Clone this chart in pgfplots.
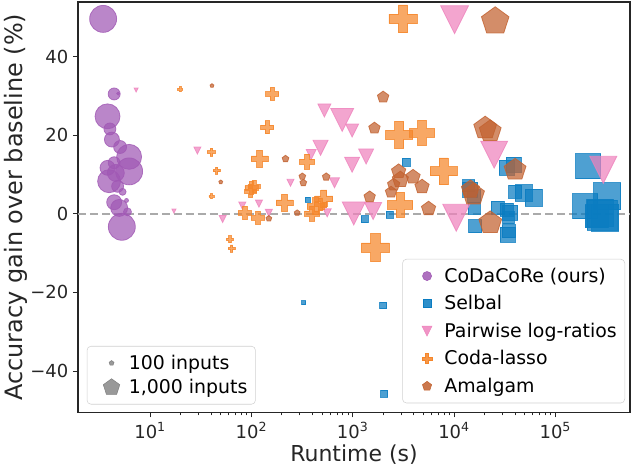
\documentclass[border=0pt]{standalone}
\usepackage{fontspec}
\setmainfont{DejaVu Sans}
\usepackage{pgfplots}
\pgfplotsset{compat=1.18}
\usepackage{pgfplotstable}
\usetikzlibrary{plotmarks}

\definecolor{cpurple}{HTML}{A058B4}
\definecolor{cblue}{HTML}{0A7CC1}
\definecolor{cpink}{HTML}{EE82BC}
\definecolor{corange}{HTML}{F5862A}
\definecolor{cbrown}{HTML}{C2612F}
\definecolor{cspine}{HTML}{262626}
\definecolor{cgrid}{HTML}{AAAAAA}

% matplotlib-like marks
\pgfdeclareplotmark{tridown}{%
  \pgfpathmoveto{\pgfqpoint{0pt}{-\pgfplotmarksize}}%
  \pgfpathlineto{\pgfqpoint{-\pgfplotmarksize}{\pgfplotmarksize}}%
  \pgfpathlineto{\pgfqpoint{\pgfplotmarksize}{\pgfplotmarksize}}%
  \pgfpathclose
  \pgfusepathqfillstroke}
\pgfdeclareplotmark{fplus}{%
  \pgfpathmoveto{\pgfqpoint{-0.3333\pgfplotmarksize}{-\pgfplotmarksize}}%
  \pgfpathlineto{\pgfqpoint{0.3333\pgfplotmarksize}{-\pgfplotmarksize}}%
  \pgfpathlineto{\pgfqpoint{0.3333\pgfplotmarksize}{-0.3333\pgfplotmarksize}}%
  \pgfpathlineto{\pgfqpoint{\pgfplotmarksize}{-0.3333\pgfplotmarksize}}%
  \pgfpathlineto{\pgfqpoint{\pgfplotmarksize}{0.3333\pgfplotmarksize}}%
  \pgfpathlineto{\pgfqpoint{0.3333\pgfplotmarksize}{0.3333\pgfplotmarksize}}%
  \pgfpathlineto{\pgfqpoint{0.3333\pgfplotmarksize}{\pgfplotmarksize}}%
  \pgfpathlineto{\pgfqpoint{-0.3333\pgfplotmarksize}{\pgfplotmarksize}}%
  \pgfpathlineto{\pgfqpoint{-0.3333\pgfplotmarksize}{0.3333\pgfplotmarksize}}%
  \pgfpathlineto{\pgfqpoint{-\pgfplotmarksize}{0.3333\pgfplotmarksize}}%
  \pgfpathlineto{\pgfqpoint{-\pgfplotmarksize}{-0.3333\pgfplotmarksize}}%
  \pgfpathlineto{\pgfqpoint{-0.3333\pgfplotmarksize}{-0.3333\pgfplotmarksize}}%
  \pgfpathclose
  \pgfusepathqfillstroke}

% d = marker span in reference pixels (1px = 0.75pt)
\pgfplotsset{
  bub/.style 2 args={only marks, forget plot, mark=#1, scatter,
    point meta=\thisrow{d},
    scatter/use mapped color={draw=#2, fill=#2},
    visualization depends on={0.375*\thisrow{d} \as \msz},
    scatter/@pre marker code/.append style={/tikz/mark size=\msz},
    mark options={fill opacity=0.72, draw opacity=0.8, line width=0.6pt}},
  limg/.style={legend image code/.code={%
    \path (0cm,0cm) (0.88cm,0cm);
    \draw[##1] plot coordinates {(0.5cm,0cm)};}},
  lbox/.style={draw=black!18, rounded corners=3pt, fill=white, fill opacity=0.8,
    draw opacity=1, text opacity=1, font=\fontsize{14.2}{17}\selectfont,
    inner xsep=4pt, inner ysep=4.5pt},
}

\pgfplotstableread{
x y d
3.44 49.6 27
4.42 30.5 12
4.84 30.6 3
3.80 24.8 25
4.01 21.6 12
4.20 18.9 15
5.06 17.0 13
6.21 14.5 25
6.21 10.8 27
3.80 11.7 15
3.94 8.3 23
4.59 10.4 17
4.42 13.0 12
5.35 5.6 7
4.42 2.95 15
4.95 1.5 17
5.85 3.4 4
5.98 0.5 8
5.26 -3.3 27
4.78 7.0 12
}\codacore

\pgfplotstableread{
x y d
329 -22.6 4
1995 -23.3 7
2052 -45.7 7
1312 -1.4 7
2318 -0.2 7
361 3.6 5
3381 13.1 8
13900 7.2 12
15800 4.5 13
15800 1.5 12
16190 -3.1 13
26850 1.5 13
33200 1.1 13
34450 -1.0 12
34450 -4.4 13
38550 12.5 15
40090 5.7 13
14450 6.2 15
33200 11.7 15
35800 0.25 15
34000 -5.3 15
48400 5.3 17
60700 4.1 17
211400 12.1 25
196200 1.9 25
325000 4.5 27
275600 0.25 27
309000 -1.0 27
255700 -0.6 23
290000 -0.3 30
}\selbal

\pgfplotstableread{
x y d
7.28 31.5 4
29.3 16.1 7
17.2 0.7 4
52.0 -1.3 7
81.3 2.1 7
118.6 2.6 7
148.6 0.25 7
243 7.9 7
525 26.3 13
787 23.9 23
987 21.2 13
481 16.8 15
389 15.1 10
986 12.5 15
1355 14.6 15
661 7.9 10
560 0.25 8
1023 0.1 23
1589 0.7 17
10120 49.4 28
24880 15.05 27
10520 -1.0 27
297000 11.2 27
}\pairwise

\pgfplotstableread{
x y d
19.8 31.7 5
40.3 15.7 8
45.4 11.0 7
40.3 4.5 5
61.4 -6.5 7
63.8 -8.8 7
160.7 30.5 13
143.5 22.0 13
120.5 14.0 17
100 6.6 13
106 7.0 12
98 5.7 12
86.3 0.25 13
115.8 -1.0 13
212 2.8 17
355.5 13.3 15
518 3.8 18
430 1.9 17
398 0.1 15
481 2.4 13
1675 -8.6 28
2951 2.3 25
2884 20.1 27
4830 20.6 25
7890 10.8 27
3130 49.6 28
}\codalasso

\pgfplotstableread{
x y d
40.8 32.6 4
49.8 8.1 4
217 14.0 7
148.6 -1.2 6
283 0.25 6
318 9.5 7
325 7.9 7
547 9.4 8
1995 29.7 12
1637 21.8 12
1469 4.3 12
2838 10.8 15
2951 8.7 17
2535 7.4 13
3935 9.4 15
4830 6.9 15
2388 5.5 12
5600 1.3 15
20280 21.8 24
22740 21.0 23
15550 4.9 23
14500 6.2 19
22740 -2.3 24
40000 11.2 23
25470 49.0 29
}\amalgam

\begin{document}
\begin{tikzpicture}
\begin{axis}[
  xmode=log, scale only axis, width=414.75pt, height=308.25pt,
  xmin=1.94, xmax=5.45e5, ymin=-50.5, ymax=53.9,
  xtick={10,100,1000,10000,100000},
  xticklabels={10\textsuperscript{1},10\textsuperscript{2},10\textsuperscript{3},10\textsuperscript{4},10\textsuperscript{5}},
  ytick={-40,-20,0,20,40},
  yticklabels={−40,−20,0,20,40},
  tick align=outside, xtick pos=bottom, ytick pos=left,
  major tick length=3.75pt, minor tick length=2.25pt,
  every tick/.style={cspine, line width=0.75pt},
  axis line style={cspine, line width=0.9pt},
  tick label style={font=\fontsize{13.5}{16}\selectfont, text=cspine},
  xlabel={Runtime (s)}, ylabel={Accuracy gain over baseline (\%)},
  xlabel style={font=\fontsize{16.5}{20}\selectfont, text=cspine,
    at={([yshift=-32pt]axis description cs:0.5,0)}, anchor=center},
  ylabel style={font=\fontsize{18}{22}\selectfont, text=cspine,
    at={([xshift=-46.5pt]axis description cs:0,0.5)}, anchor=center},
  legend style={lbox, at={(0.991,0.022)}, anchor=south east, row sep=4.4pt},
  legend cell align=left,
]
\coordinate (bl) at (rel axis cs:0,0);
\coordinate (tr) at (rel axis cs:1,1);
\addplot[forget plot, cgrid, line width=1.5pt, dash pattern=on 6pt off 3pt] coordinates {(1.94,0) (5.45e5,0)};
\addplot[bub={*}{cpurple}] table[x=x,y=y] {\codacore};
\addplot[bub={square*}{cblue}] table[x=x,y=y] {\selbal};
\addplot[bub={tridown}{cpink}] table[x=x,y=y] {\pairwise};
\addplot[bub={fplus}{corange}] table[x=x,y=y] {\codalasso};
\addplot[bub={pentagon*}{cbrown}] table[x=x,y=y] {\amalgam};
\addlegendimage{only marks, limg, mark=*, mark size=3.4pt, draw=cpurple, fill=cpurple, mark options={fill opacity=0.85}}
\addlegendentry{CoDaCoRe (ours)}
\addlegendimage{only marks, limg, mark=square*, mark size=3pt, draw=cblue, fill=cblue, mark options={fill opacity=0.85}}
\addlegendentry{Selbal}
\addlegendimage{only marks, limg, mark=tridown, mark size=3.7pt, draw=cpink, fill=cpink, mark options={fill opacity=0.85}}
\addlegendentry{Pairwise log-ratios}
\addlegendimage{only marks, limg, mark=fplus, mark size=3.7pt, draw=corange, fill=corange, mark options={fill opacity=0.85}}
\addlegendentry{Coda-lasso}
\addlegendimage{only marks, limg, mark=pentagon*, mark size=3.6pt, draw=cbrown, fill=cbrown, mark options={fill opacity=0.85}}
\addlegendentry{Amalgam}
\end{axis}
\begin{axis}[
  scale only axis, width=414.75pt, height=308.25pt, hide axis,
  xmin=0, xmax=1, ymin=0, ymax=1,
  legend style={lbox, at={(0.016,0.019)}, anchor=south west, row sep=2pt},
  legend cell align=left,
]
\addplot[forget plot, draw=none] coordinates {(0.5,0.5)};
\addlegendimage{only marks, limg, mark=pentagon*, mark size=1.9pt, draw=gray, fill=gray}
\addlegendentry{100 inputs}
\addlegendimage{only marks, limg, mark=pentagon*, mark size=6.5pt, draw=gray, fill=gray}
\addlegendentry{1,000 inputs}
\end{axis}
\path ([xshift=-57.75pt,yshift=-42pt]bl) rectangle ([xshift=2.25pt,yshift=1.5pt]tr);
\end{tikzpicture}
\end{document}
